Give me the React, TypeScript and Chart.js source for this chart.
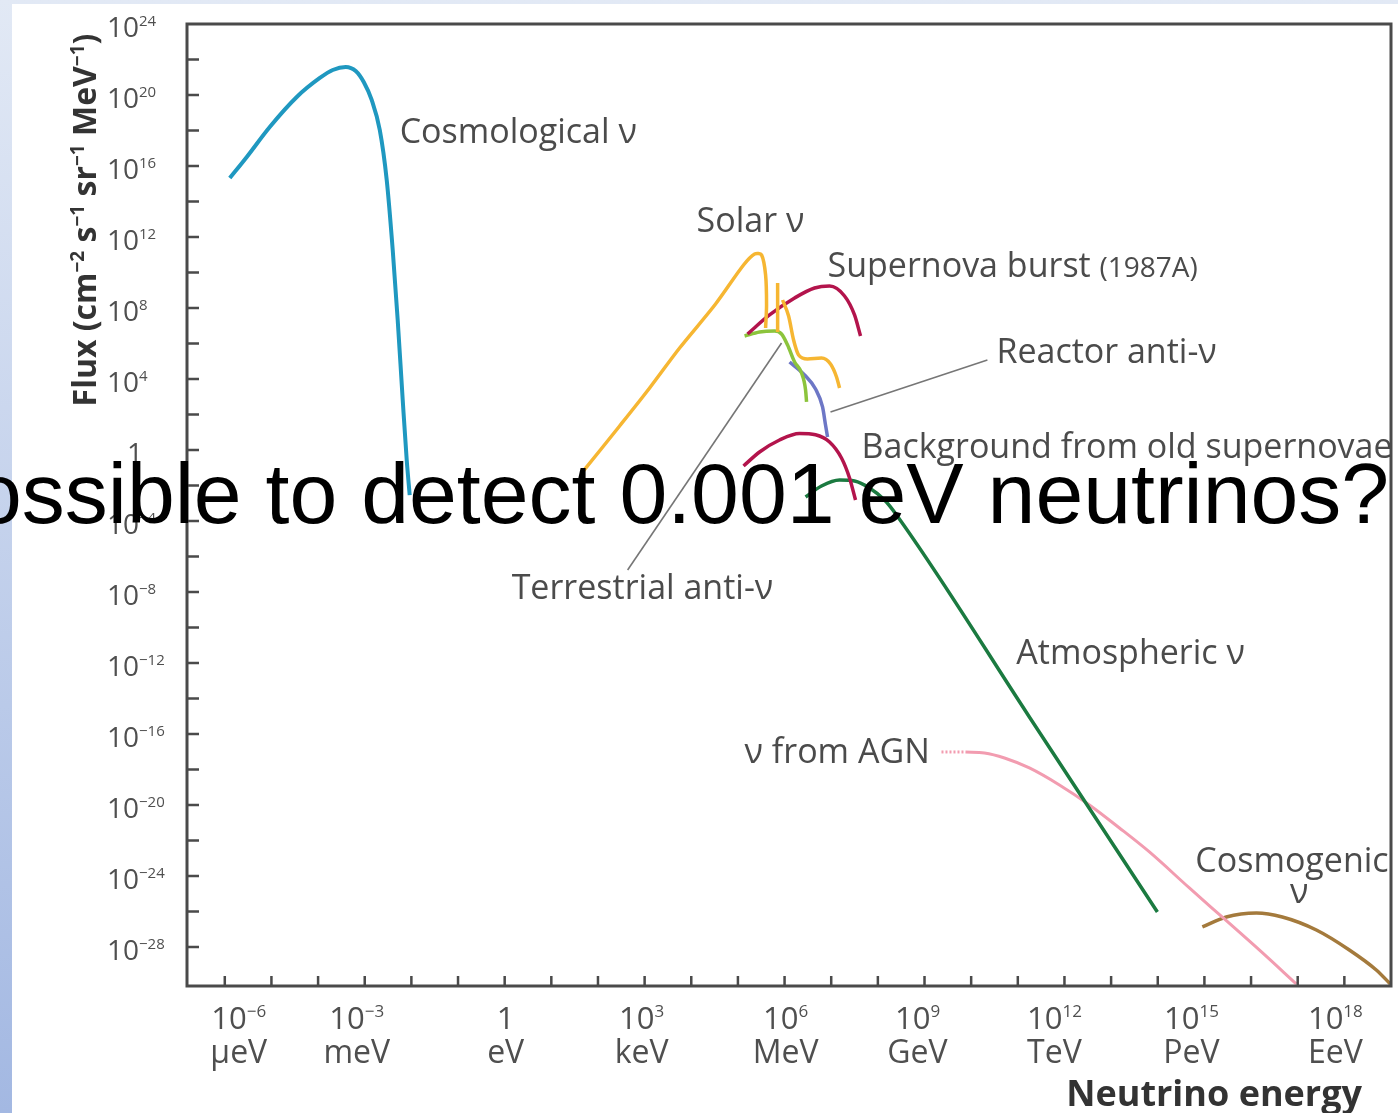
import React, { useEffect, useRef } from 'react';
import { Chart, registerables } from 'chart.js';

Chart.register(...registerables);

// Energies in eV, fluxes in cm^-2 s^-1 sr^-1 MeV^-1
const cosmologicalEnergy = [1.28e-6, 2.96e-6, 9.2e-6, 3.49e-5, 1.09e-4, 2.06e-4, 3.92e-4, 6.41e-4, 9.52e-4, 1.41e-3, 2.1e-3, 2.96e-3, 3.98e-3, 5.09e-3, 6.52e-3, 7.94e-3, 9.2e-3];
const cosmologicalFlux = [2.09e15, 3.24e16, 1.58e18, 7.76e19, 9.12e20, 2.57e21, 3.8e21, 2.24e21, 5.37e20, 5.25e19, 1.07e18, 1.62e15, 1.86e11, 2.09e7, 661, 0.275, 2.88e-3];

const solarEnergy = [46.9, 291, 1280, 5620, 3.32e4, 1.32e5, 2.28e5, 3.21e5, 3.92e5, 4.11e5, 3.92e5];
const solarFlux = [0.0577, 22.5, 3110, 5.57e5, 1.68e8, 2.63e10, 1.1e11, 9.77e10, 7.24e9, 1.48e8, 7.41e6];

const solarLineEnergy = [7.1e5, 7.1e5];
const solarLineFlux = [2.56e9, 4.45e6];

const solarB8Energy = [9.06e5, 1.22e6, 1.56e6, 2.0e6, 3.1e6, 6.19e6, 9.66e6, 1.3e7, 1.51e7];
const solarB8Flux = [2.82e8, 3.54e7, 1.57e6, 2.25e5, 1.34e5, 1.52e5, 7.0e4, 1.3e4, 3110];

const supernovaEnergy = [1.61e5, 4.76e5, 1.64e6, 4.39e6, 9.2e6, 1.93e7, 3.16e7, 4.25e7];
const supernovaFlux = [3.43e6, 4.04e7, 3.66e8, 1.34e9, 1.73e9, 4.74e8, 4.04e7, 2.65e6];

const terrestrialEnergy = [1.39e5, 2.91e5, 6.1e5, 8.61e5, 1.16e6, 1.64e6, 2.31e6, 2.82e6, 2.96e6];
const terrestrialFlux = [2.65e6, 4.45e6, 5.06e6, 3.43e6, 8.22e5, 9.08e4, 2.18e4, 2400, 506];

const reactorEnergy = [1.28e6, 2.68e6, 4.61e6, 6.52e6, 7.55e6, 8.34e6];
const reactorFlux = [9.08e4, 1.68e4, 2735, 265, 25.6, 5.4];

const oldSupernovaEnergy = [1.32e5, 2.91e5, 7.8e5, 2.09e6, 4.61e6, 9.2e6, 1.66e7, 2.47e7, 3.32e7];
const oldSupernovaFlux = [0.126, 0.771, 3.66, 8.5, 7.2, 2.82, 0.354, 0.0265, 1.52e-3];

const atmosphericEnergy = [2.82e6, 6.19e6, 1.51e7, 3.16e7, 6.62e7, 1.39e8, 2.51e8, 1.77e11, 9.82e13];
const atmosphericFlux = [2.25e-3, 9.38e-3, 0.0204, 0.0179, 7.23e-3, 1.52e-3, 2.18e-4, 9.08e-16, 9.38e-27];

const agnDottedEnergy = [2.31e9, 7.55e9];
const agnDottedFlux = [9.68e-18, 9.68e-18];
const agnEnergy = [7.55e9, 1.93e10, 5.18e10, 1.77e11, 7.8e11, 3.43e12, 1.51e13, 6.62e13, 4.76e14, 2.68e15, 1.5e16, 9.33e16];
const agnFlux = [9.68e-18, 8.51e-18, 4.45e-18, 1.22e-18, 1.34e-19, 1e-20, 5.06e-22, 2.25e-23, 2.11e-25, 3.78e-27, 6.78e-29, 8.22e-31];

const cosmogenicEnergy = [9.04e14, 2.95e15, 1.3e16, 4.68e16, 2.51e17, 1.28e18, 4.84e18, 9.64e18];
const cosmogenicFlux = [1.34e-27, 4.9e-27, 8.22e-27, 4.9e-27, 9.08e-28, 6.78e-29, 5.06e-30, 8.22e-31];

const terrestrialPointerEnergy = [432, 8.61e5];
const terrestrialPointerFlux = [1.73e-7, 1.07e6];
const reactorPointerEnergy = [9.66e6, 2.23e10];
const reactorPointerFlux = [138, 1.18e5];

// Axis ticks
const xTickExponents = [-6, -3, 0, 3, 6, 9, 12, 15, 18];
const xTickUnits = ['μeV', 'meV', 'eV', 'keV', 'MeV', 'GeV', 'TeV', 'PeV', 'EeV'];
const yTickExponents = [24, 20, 16, 12, 8, 4, 0, -4, -8, -12, -16, -20, -24, -28];

// Curve labels (anchor = left edge, vertical middle, in data coordinates)
const labelTexts = ['Cosmological ν', 'Solar ν', 'Supernova burst', 'Reactor anti-ν', 'Background from old supernovae', 'Terrestrial anti-ν', 'Atmospheric ν', 'ν from AGN', 'Cosmogenic'];
const labelSuffixes = ['', '', '(1987A)', '', '', '', '', '', ''];
const labelEnergy = [5.62e-3, 1.3e4, 8.34e6, 3.48e10, 4.47e7, 1.41, 9.3e10, 1.39e5, 6.4e14];
const labelFlux = [7.2e17, 7.0e12, 2.0e10, 2.9e5, 1.3, 1.5e-8, 3.2e-12, 8.5e-18, 6.2e-24];
const cosmogenicNuEnergy = 1.08e17;
const cosmogenicNuFlux = 1.1e-25;

const titleText = 'ossible to detect 0.001 eV neutrinos?';

// layout nudges for the hand-placed x tick labels (px)
const xLabelNudge = [14, -8, 1, -3, 1, -7, -10, -13, -9];

const pts = (xs: number[], ys: number[]) => xs.map((x, i) => ({ x, y: ys[i] }));

type Part = [string, string, number]; // text, font, baseline shift

function drawParts(ctx: CanvasRenderingContext2D, parts: Part[], x: number, y: number, align: 'left' | 'center' | 'right') {
  let total = 0;
  const widths = parts.map(([t, f]) => {
    ctx.font = f;
    const w = ctx.measureText(t).width;
    total += w;
    return w;
  });
  let cx = align === 'left' ? x : align === 'center' ? x - total / 2 : x - total;
  ctx.textAlign = 'left';
  parts.forEach(([t, f, dy], i) => {
    ctx.font = f;
    ctx.fillText(t, cx, y + dy);
    cx += widths[i];
  });
}

const sup = (e: number) => (e < 0 ? '\u2212' + Math.abs(e) : String(e));

const decor = {
  id: 'decor',
  afterDatasetsDraw(chart: any) {
    const { ctx, chartArea: a, scales } = chart;
    const xs = scales.x;
    const ys = scales.y;
    ctx.save();

    // curve labels
    ctx.fillStyle = '#4b4b4b';
    ctx.textBaseline = 'middle';
    ctx.textAlign = 'left';
    labelTexts.forEach((t, i) => {
      const px = xs.getPixelForValue(labelEnergy[i]);
      const py = ys.getPixelForValue(labelFlux[i]);
      ctx.font = '34px "Open Sans"';
      ctx.fillText(t, px, py);
      if (labelSuffixes[i]) {
        const w = ctx.measureText(t + ' ').width;
        ctx.font = '28px "Open Sans"';
        ctx.fillText(labelSuffixes[i], px + w, py + 2);
      }
    });
    ctx.font = '34px "Open Sans"';
    ctx.textAlign = 'center';
    ctx.fillText('ν', xs.getPixelForValue(cosmogenicNuEnergy), ys.getPixelForValue(cosmogenicNuFlux));

    // frame
    ctx.strokeStyle = '#4a4a4a';
    ctx.lineWidth = 3;
    ctx.strokeRect(a.left, a.top, a.right - a.left, a.bottom - a.top);

    // inward ticks
    ctx.lineWidth = 2.5;
    ctx.beginPath();
    for (let e = -6; e <= 18; e++) {
      const px = xs.getPixelForValue(Math.pow(10, e));
      ctx.moveTo(px, a.bottom);
      ctx.lineTo(px, a.bottom - 10);
    }
    for (let e = -30; e <= 24; e += 2) {
      const py = ys.getPixelForValue(Math.pow(10, e));
      if (py < a.top + 4 || py > a.bottom - 6) continue;
      ctx.moveTo(a.left, py);
      ctx.lineTo(a.left + 12, py);
    }
    ctx.stroke();

    // x tick labels
    ctx.fillStyle = '#4f4f4f';
    ctx.textBaseline = 'alphabetic';
    xTickExponents.forEach((e, i) => {
      const px = xs.getPixelForValue(Math.pow(10, e)) + xLabelNudge[i];
      if (e === 0) {
        drawParts(ctx, [['1', '31px "Open Sans"', 0]], px, a.bottom + 43, 'center');
      } else {
        drawParts(ctx, [['10', '31px "Open Sans"', 0], [sup(e), '17px "Open Sans"', -12]], px, a.bottom + 43, 'center');
      }
      drawParts(ctx, [[xTickUnits[i], '32px "Open Sans"', 0]], px, a.bottom + 77, 'center');
    });

    // y tick labels
    yTickExponents.forEach((e) => {
      const py = ys.getPixelForValue(Math.pow(10, e)) + 13;
      if (e === 0) {
        drawParts(ctx, [['1', '28px "Open Sans"', 0]], 127, py, 'left');
      } else {
        drawParts(ctx, [['10', '28px "Open Sans"', 0], [sup(e), '15px "Open Sans"', -11]], 107, py, 'left');
      }
    });

    // axis titles
    ctx.fillStyle = '#333333';
    drawParts(ctx, [['Neutrino energy', 'bold 36px "Open Sans"', 0]], 1362, 1106, 'right');
    ctx.save();
    ctx.translate(96, 220);
    ctx.rotate(-Math.PI / 2);
    const b = 'bold 32px "Open Sans"';
    const s = 'bold 19px "Open Sans"';
    drawParts(ctx, [['Flux (cm', b, 0], ['\u22122', s, -12], [' s', b, 0], ['\u22121', s, -12], [' sr', b, 0], ['\u22121', s, -12], [' MeV', b, 0], ['\u22121', s, -12], [')', b, 0]], 0, 0, 'center');
    ctx.restore();

    ctx.restore();
  },
  afterDraw(chart: any) {
    const ctx = chart.ctx;
    ctx.save();
    ctx.fillStyle = '#000000';
    ctx.textBaseline = 'alphabetic';
    ctx.textAlign = 'left';
    ctx.font = '86px "Liberation Sans"';
    ctx.fillText(titleText, -26, 523);
    ctx.restore();
  },
};

export default function App() {
  const ref = useRef<HTMLCanvasElement>(null);
  useEffect(() => {
    document.body.style.margin = '0';
    const canvas = ref.current;
    if (!canvas) return;
    const line = (xs: number[], ys: number[], color: string, width: number, extra: any = {}) => ({
      data: pts(xs, ys),
      borderColor: color,
      backgroundColor: color,
      borderWidth: width,
      pointRadius: 0,
      fill: false,
      ...extra,
    });
    const mono = { cubicInterpolationMode: 'monotone' };
    const chart = new Chart(canvas, {
      type: 'line',
      data: {
        datasets: [
          line(terrestrialPointerEnergy, terrestrialPointerFlux, '#767676', 1.6, { tension: 0 }),
          line(reactorPointerEnergy, reactorPointerFlux, '#767676', 1.6, { tension: 0 }),
          line(cosmologicalEnergy, cosmologicalFlux, '#1f98c0', 4, mono),
          line(solarEnergy, solarFlux, '#f6b632', 3.5, { tension: 0.3 }),
          line(solarLineEnergy, solarLineFlux, '#f6b632', 3.5, { tension: 0 }),
          line(solarB8Energy, solarB8Flux, '#f6b632', 3.5, mono),
          line(supernovaEnergy, supernovaFlux, '#b3144c', 3.5, mono),
          line(oldSupernovaEnergy, oldSupernovaFlux, '#b3144c', 3.5, mono),
          line(terrestrialEnergy, terrestrialFlux, '#8cc43c', 3.5, mono),
          line(reactorEnergy, reactorFlux, '#6d77c6', 3.5, mono),
          line(atmosphericEnergy, atmosphericFlux, '#1b7a40', 3.5, mono),
          line(agnDottedEnergy, agnDottedFlux, '#f29cb0', 3, { tension: 0, borderDash: [2, 2] }),
          line(agnEnergy, agnFlux, '#f29cb0', 3, mono),
          line(cosmogenicEnergy, cosmogenicFlux, '#a47a3c', 3.5, mono),
        ],
      },
      options: {
        animation: false,
        responsive: false,
        devicePixelRatio: 1,
        events: [],
        layout: { padding: { left: 12, top: 24, right: 7, bottom: 0 } },
        plugins: { legend: { display: false }, tooltip: { enabled: false } },
        scales: {
          x: {
            type: 'logarithmic',
            min: Math.pow(10, -6.81),
            max: 1e19,
            ticks: { display: false },
            grid: { display: false },
            border: { display: false },
            afterFit: (sc: any) => { sc.height = 127; },
          },
          y: {
            type: 'logarithmic',
            min: Math.pow(10, -30.2),
            max: 1e24,
            ticks: { display: false },
            grid: { display: false },
            border: { display: false },
            afterFit: (sc: any) => { sc.width = 175; },
          },
        },
      } as any,
      plugins: [decor],
    });
    return () => chart.destroy();
  }, []);
  return (
    <div style={{ position: 'relative', width: 1398, height: 1113, overflow: 'hidden', background: 'linear-gradient(#e2e9f5, #a3b8e2)' }}>
      <div style={{ position: 'absolute', left: 12, top: 4, right: 0, bottom: 0, background: '#ffffff' }} />
      <canvas ref={ref} width={1398} height={1113} style={{ position: 'absolute', left: 0, top: 0 }} />
    </div>
  );
}
